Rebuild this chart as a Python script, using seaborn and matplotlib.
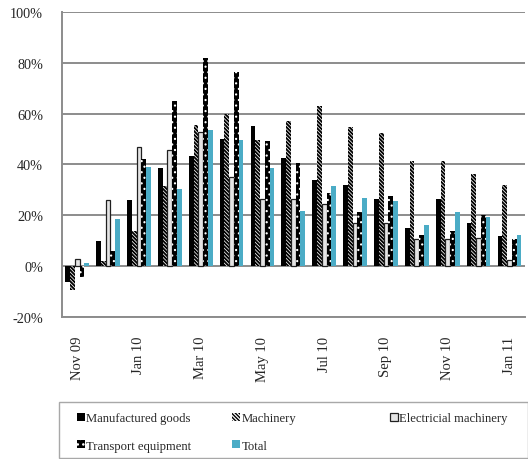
import numpy as np
import pandas as pd
import matplotlib
matplotlib.use("Agg")
import matplotlib.pyplot as plt
import seaborn as sns
from matplotlib.patches import Rectangle
from matplotlib.ticker import FixedLocator, PercentFormatter

months = ["Nov 09", "Dec 09", "Jan 10", "Feb 10", "Mar 10", "Apr 10", "May 10",
          "Jun 10", "Jul 10", "Aug 10", "Sep 10", "Oct 10", "Nov 10", "Dec 10", "Jan 11"]
manufactured = [-6.1, 9.7, 26.0, 38.4, 43.4, 50.0, 55.2, 42.5, 33.9, 32.0, 26.3, 15.0, 26.5, 16.9, 12.0]
machinery = [-9.5, 2.0, 13.7, 31.4, 55.6, 60.0, 49.7, 57.0, 63.0, 54.9, 52.3, 41.3, 41.2, 36.3, 31.8]
electrical = [2.6, 26.0, 46.8, 45.5, 52.8, 35.2, 26.4, 26.4, 24.3, 17.1, 17.1, 10.6, 10.6, 11.0, 2.4]
transport = [-4.3, 5.8, 42.1, 64.8, 82.0, 76.3, 49.3, 40.5, 28.9, 21.4, 27.6, 12.4, 13.9, 19.9, 10.8]
total = [1.3, 18.7, 39.0, 30.3, 53.6, 49.7, 38.6, 21.8, 31.6, 26.9, 25.5, 16.3, 21.4, 19.2, 12.3]

series_names = ["Manufactured goods", "Machinery", "Electricial machinery",
                "Transport equipment", "Total"]
series_values = [manufactured, machinery, electrical, transport, total]

df = pd.DataFrame({
    "month": np.tile(months, len(series_names)),
    "series": np.repeat(series_names, len(months)),
    "value": np.concatenate(series_values),
})

sns.set_theme(style="white")
plt.rcParams["font.family"] = ["Liberation Serif", "DejaVu Serif"]
plt.rcParams["axes.unicode_minus"] = False
plt.rcParams["hatch.linewidth"] = 1.0

fig = plt.figure(figsize=(5.28, 4.60), dpi=100)
ax = fig.add_axes([0.117, 0.309, 0.877, 0.663])

face = {"Manufactured goods": "black", "Machinery": "white",
        "Electricial machinery": "white", "Transport equipment": "black",
        "Total": "#4bacc6"}
sns.barplot(data=df, x="month", y="value", hue="series", hue_order=series_names,
            order=months, palette=face, width=0.77, gap=0, ax=ax,
            saturation=1, legend=True, err_kws={"linewidth": 0})

styles = {
    "Manufactured goods": dict(fc="black", ec="black", hatch=None, lw=0, hlw=1.0),
    "Machinery": dict(fc="white", ec="black", hatch="\\" * 9, lw=0, hlw=1.35),
    "Electricial machinery": dict(fc="#e4e4e4", ec="#202020", hatch=None, lw=0.9, hlw=1.0),
    "Transport equipment": dict(fc="black", ec="white", hatch="...", lw=0, hlw=0.8),
    "Total": dict(fc="#4bacc6", ec="#4bacc6", hatch=None, lw=0, hlw=1.0),
}


def style_patch(p, s):
    p.set_facecolor(s["fc"])
    p.set_edgecolor(s["ec"])
    p.set_hatch(s["hatch"])
    p.set_linewidth(s["lw"])
    if hasattr(p, "set_hatch_linewidth"):
        p.set_hatch_linewidth(s["hlw"])


for cont, name in zip(ax.containers, series_names):
    for p in cont:
        style_patch(p, styles[name])

ax.set_ylim(-20, 100)
ax.set_xlim(-0.5, len(months) - 0.5)
ax.yaxis.set_major_locator(FixedLocator([-20, 0, 20, 40, 60, 80, 100]))
ax.yaxis.set_major_formatter(PercentFormatter(decimals=0))
ax.grid(axis="y", color="#8c8c8c", linewidth=1.4)
ax.set_axisbelow(True)
ax.set_xlabel("")
ax.set_ylabel("")

label_pos = list(range(0, len(months), 2))
ax.set_xticks(label_pos)
ax.set_xticklabels([months[i] for i in label_pos], rotation=90, fontsize=10.5)
ax.tick_params(axis="x", which="major", length=0, pad=13.5)
ax.set_xticks([i + 1.5 for i in range(0, len(months) - 2, 2)], minor=True)
ax.tick_params(axis="x", which="minor", length=3, color="#8c8c8c", width=1, direction="out")
ax.tick_params(axis="y", length=3.6, color="#8c8c8c", width=1.2, labelsize=10.3, pad=10)

for side in ["top", "right"]:
    ax.spines[side].set_visible(False)
for side in ["left", "bottom"]:
    ax.spines[side].set_color("#8c8c8c")
    ax.spines[side].set_linewidth(1.4)

handles, labels = ax.get_legend_handles_labels()
ax.get_legend().remove()
hmap = dict(zip(labels, handles))
for name, h in hmap.items():
    style_patch(h, styles[name])

# legend frame
fig.add_artist(Rectangle((59 / 528, 1 / 460), 468.5 / 528, 56 / 460,
                         transform=fig.transFigure, fill=False,
                         edgecolor="#a8a8a8", linewidth=1.0))

columns = [(["Manufactured goods", "Transport equipment"], 77),
           (["Machinery", "Total"], 232),
           (["Electricial machinery"], 390)]
for names, xpx in columns:
    lg = fig.legend([hmap[n] for n in names], names, loc="upper left",
                    bbox_to_anchor=(xpx / 528, 1 - 413 / 460),
                    bbox_transform=fig.transFigure, fontsize=9.1, frameon=False,
                    handlelength=0.6, handleheight=0.6, handletextpad=0.15,
                    borderpad=0, borderaxespad=0, labelspacing=1.25)

fig.savefig("out.png", dpi=100)
